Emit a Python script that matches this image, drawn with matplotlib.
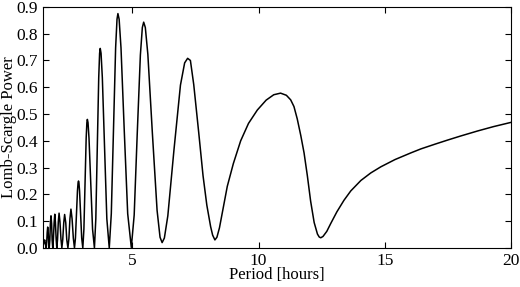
import matplotlib
matplotlib.use('Agg')
import matplotlib.pyplot as plt

# periodogram (period in hours, LS power)
period = [1.47, 1.50, 1.53, 1.56, 1.59,
          1.61, 1.63, 1.65, 1.67, 1.69, 1.71,
          1.735, 1.755, 1.78, 1.805, 1.825, 1.85,
          1.875, 1.905, 1.93, 1.955, 1.985, 2.01,
          2.04, 2.07, 2.10, 2.135, 2.175, 2.21,
          2.245, 2.285, 2.32, 2.365, 2.405, 2.45,
          2.49, 2.53, 2.57, 2.615, 2.665, 2.71,
          2.748, 2.788, 2.828, 2.853, 2.87, 2.886, 2.911, 2.953, 2.996, 3.04,
          3.083, 3.127, 3.173, 3.201, 3.22, 3.246, 3.285, 3.354, 3.426, 3.50,
          3.555, 3.611, 3.670, 3.705, 3.73, 3.762, 3.813, 3.900, 3.991, 4.087,
          4.168, 4.252, 4.339, 4.394, 4.43, 4.478, 4.552, 4.681, 4.817, 4.96,
          5.074, 5.193, 5.319, 5.397, 5.45, 5.515, 5.615, 5.792, 5.981, 6.098, 6.18,
          6.269, 6.406, 6.647, 6.906, 7.072, 7.19, 7.30, 7.432, 7.63, 7.80, 7.95, 8.10, 8.18, 8.27,
          8.35, 8.45, 8.62, 8.76, 9.0, 9.29, 9.6, 9.95, 10.3, 10.6, 10.87,
          11.1, 11.27, 11.40, 11.53, 11.67, 11.80, 11.93, 12.06, 12.20, 12.33, 12.40, 12.46,
          12.55, 12.7, 12.86, 13.1, 13.38, 13.65, 14.05, 14.44, 14.84, 15.4, 16.03, 16.43,
          17.0, 17.49, 18.0, 18.68, 19.3, 20.0]
power = [0.008, 0.02, 0.03, 0.015, 0.0,
         0.02, 0.058, 0.078, 0.058, 0.02, 0.0,
         0.03, 0.09, 0.12, 0.09, 0.03, 0.0,
         0.032, 0.095, 0.126, 0.095, 0.032, 0.0,
         0.033, 0.098, 0.13, 0.098, 0.033, 0.0,
         0.031, 0.094, 0.125, 0.094, 0.031, 0.0,
         0.036, 0.109, 0.145, 0.109, 0.036, 0.0,
         0.037, 0.125, 0.213, 0.244, 0.25, 0.244, 0.213, 0.125, 0.037, 0.0,
         0.070, 0.24, 0.41, 0.468, 0.48, 0.468, 0.41, 0.24, 0.070, 0.0,
         0.109, 0.373, 0.636, 0.727, 0.745, 0.727, 0.636, 0.373, 0.109, 0.0,
         0.128, 0.438, 0.747, 0.854, 0.875, 0.854, 0.747, 0.438, 0.128, 0.002,
         0.123, 0.422, 0.72, 0.823, 0.843, 0.823, 0.723, 0.432, 0.140, 0.04, 0.02,
         0.037, 0.120, 0.364, 0.608, 0.691, 0.708, 0.70, 0.61, 0.43, 0.27, 0.16, 0.08, 0.048, 0.03,
         0.04, 0.075, 0.16, 0.23, 0.315, 0.40, 0.465, 0.515, 0.552, 0.572, 0.578,
         0.570, 0.553, 0.528, 0.482, 0.42, 0.355, 0.27, 0.175, 0.095, 0.052, 0.041, 0.038,
         0.043, 0.062, 0.092, 0.135, 0.178, 0.213, 0.252, 0.280, 0.303, 0.330, 0.355, 0.370,
         0.388, 0.403, 0.418, 0.437, 0.453, 0.469]

xticks = [5, 10, 15, 20]
yticks = [0.0, 0.1, 0.2, 0.3, 0.4, 0.5, 0.6, 0.7, 0.8, 0.9]

plt.rcParams['font.family'] = ['Liberation Serif', 'DejaVu Serif']
plt.rcParams['font.size'] = 12

fig = plt.figure(figsize=(5.2, 2.87), dpi=100)
ax = fig.add_axes([0.083, 0.136, 0.9, 0.84])
ax.plot(period, power, color='black', lw=1.1)

ax.set_xlim(1.47, 20)
ax.set_ylim(0, 0.9)
ax.set_xticks(xticks)
ax.set_yticks(yticks)
ax.set_yticklabels(['%.1f' % v for v in yticks])
ax.tick_params(direction='in', top=True, right=True, length=4, width=0.8,
               pad=3.5, labelsize=12.5)
for s in ax.spines.values():
    s.set_linewidth(0.8)

ax.set_xlabel('Period [hours]', labelpad=-1)
ax.set_ylabel('Lomb-Scargle Power')
ax.yaxis.set_label_coords(-0.055, 0.5)

fig.savefig('out.png', dpi=100)
